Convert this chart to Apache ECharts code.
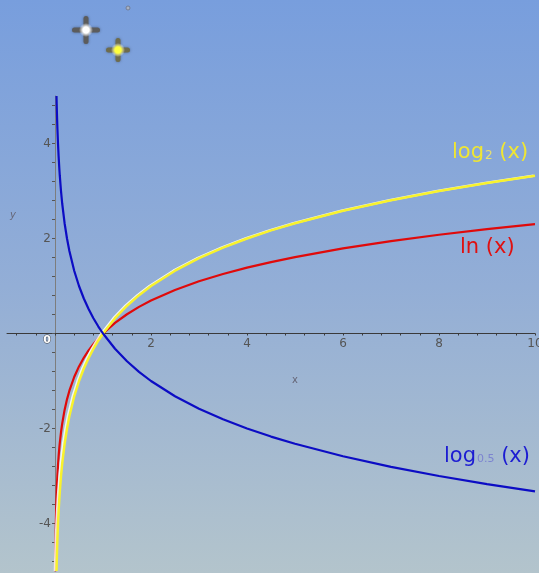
<!DOCTYPE html>
<html>
<head>
<meta charset="utf-8">
<script src="https://cdn.jsdelivr.net/npm/echarts@6/dist/echarts.min.js"></script>
<style>
  html, body { margin: 0; padding: 0; }
  #chart { width: 539px; height: 573px; }
</style>
</head>
<body>
<div id="chart"></div>
<script>
// Sample points of the three logarithm curves (x, y)
const xBase2 = [0.03125, 0.035, 0.04, 0.045, 0.05, 0.0625, 0.075, 0.09, 0.1, 0.125, 0.15, 0.2, 0.25, 0.3, 0.4, 0.5, 0.6, 0.7, 0.8, 0.9, 1, 1.25, 1.5, 1.75, 2, 2.5, 3, 3.5, 4, 4.5, 5, 6, 7, 8, 9, 10];
const yLog2 = [-5, -4.837, -4.644, -4.474, -4.322, -4, -3.737, -3.474, -3.322, -3, -2.737, -2.322, -2, -1.737, -1.322, -1, -0.737, -0.515, -0.322, -0.152, 0, 0.322, 0.585, 0.807, 1, 1.322, 1.585, 1.807, 2, 2.170, 2.322, 2.585, 2.807, 3, 3.170, 3.322];
const yLogHalf = [5, 4.837, 4.644, 4.474, 4.322, 4, 3.737, 3.474, 3.322, 3, 2.737, 2.322, 2, 1.737, 1.322, 1, 0.737, 0.515, 0.322, 0.152, 0, -0.322, -0.585, -0.807, -1, -1.322, -1.585, -1.807, -2, -2.170, -2.322, -2.585, -2.807, -3, -3.170, -3.322];
const xNat = [0.0067, 0.008, 0.01, 0.0125, 0.015, 0.02, 0.025, 0.03, 0.04, 0.05, 0.0625, 0.075, 0.09, 0.1, 0.125, 0.15, 0.2, 0.25, 0.3, 0.4, 0.5, 0.6, 0.7, 0.8, 0.9, 1, 1.25, 1.5, 1.75, 2, 2.5, 3, 3.5, 4, 4.5, 5, 6, 7, 8, 9, 10];
const yLn = [-5.006, -4.828, -4.605, -4.382, -4.200, -3.912, -3.689, -3.507, -3.219, -2.996, -2.773, -2.590, -2.408, -2.303, -2.079, -1.897, -1.609, -1.386, -1.204, -0.916, -0.693, -0.511, -0.357, -0.223, -0.105, 0, 0.223, 0.405, 0.560, 0.693, 0.916, 1.099, 1.253, 1.386, 1.504, 1.609, 1.792, 1.946, 2.079, 2.197, 2.303];

// Axis tick marks and labels
const xTickValues = [-0.8, -0.4, 0, 0.4, 0.8, 1.2, 1.6, 2, 2.4, 2.8, 3.2, 3.6, 4, 4.4, 4.8, 5.2, 5.6, 6, 6.4, 6.8, 7.2, 7.6, 8, 8.4, 8.8, 9.2, 9.6, 10];
const xLabelValues = [2, 4, 6, 8, 10];
const yTickValues = [-4.8, -4.4, -4, -3.6, -3.2, -2.8, -2.4, -2, -1.6, -1.2, -0.8, -0.4, 0, 0.4, 0.8, 1.2, 1.6, 2, 2.4, 2.8, 3.2, 3.6, 4, 4.4, 4.8];
const yLabelValues = [-4, -2, 2, 4];

// Curve captions
const captionLog2 = ['log', '2', ' (x)'];
const captionLn = 'ln (x)';
const captionLogHalf = ['log', '0.5', ' (x)'];

const pairs = (xs, ys) => xs.map((x, i) => [x, ys[i]]);

// Plot frame: x from -1 to 10, y from -5 to 5, equal scale
const GRID = { left: 7, right: 4, top: 96, bottom: 2 };
const W = 539, H = 573;
const plotW = W - GRID.left - GRID.right;
const plotH = H - GRID.top - GRID.bottom;
const yAxisShift = plotW * (0 - (-1)) / 11;   // distance of x = 0 from the left edge
const xAxisShift = plotH * (0 - (-5)) / 10;   // distance of y = 0 from the bottom edge

const chart = echarts.init(document.getElementById('chart'));

function star(cx, cy, arm, armColor, glow) {
  return {
    type: 'group', x: cx, y: cy, silent: true,
    children: [
      { type: 'rect', shape: { x: -arm, y: -2.5, width: arm * 2, height: 5, r: 2.5 },
        style: { fill: armColor, shadowBlur: 3, shadowColor: 'rgba(0,0,0,0.35)' } },
      { type: 'rect', shape: { x: -2.5, y: -arm, width: 5, height: arm * 2, r: 2.5 },
        style: { fill: armColor, shadowBlur: 3, shadowColor: 'rgba(0,0,0,0.35)' } },
      { type: 'circle', shape: { cx: 0, cy: 0, r: 7 },
        style: { fill: new echarts.graphic.RadialGradient(0.5, 0.5, 0.5, [
          { offset: 0, color: glow },
          { offset: 0.45, color: glow },
          { offset: 1, color: 'rgba(255,255,255,0)' }
        ]) } }
    ]
  };
}

chart.setOption({
  backgroundColor: new echarts.graphic.LinearGradient(0, 0, 0, 1, [
    { offset: 0, color: '#789edd' },
    { offset: 0.5, color: '#93aed6' },
    { offset: 1, color: '#b3c4cc' }
  ]),
  animation: false,
  grid: Object.assign({ containLabel: false, outerBoundsMode: 'none' }, GRID),
  xAxis: {
    type: 'value', min: -1, max: 10, position: 'bottom', offset: -xAxisShift,
    axisLine: { onZero: false, lineStyle: { color: '#3a3a3a', width: 1 } },
    axisTick: { show: true, customValues: xTickValues, length: 2, lineStyle: { color: '#3a3a3a' } },
    axisLabel: { customValues: xLabelValues, color: '#555', fontSize: 12, fontFamily: 'DejaVu Sans', margin: 4 },
    splitLine: { show: false }
  },
  yAxis: {
    type: 'value', min: -5, max: 5, position: 'left', offset: -yAxisShift,
    axisLine: { onZero: false, lineStyle: { color: '#7d7d7d', width: 1 } },
    axisTick: { show: true, customValues: yTickValues, length: 3, lineStyle: { color: '#555' } },
    axisLabel: { customValues: yLabelValues, color: '#555', fontSize: 12, fontFamily: 'DejaVu Sans', margin: 4 },
    splitLine: { show: false }
  },
  series: [
    {
      name: 'ln', type: 'line', data: pairs(xNat, yLn), showSymbol: false,
      smooth: false, clip: true,
      lineStyle: { color: '#e00a0a', width: 2.2 }
    },
    {
      name: 'log2', type: 'line', data: pairs(xBase2, yLog2), showSymbol: false,
      smooth: false, clip: true,
      lineStyle: { color: '#f8f22c', width: 2.5, shadowColor: 'rgba(255,255,255,0.85)', shadowOffsetX: -1.5, shadowBlur: 0 }
    },
    {
      name: 'log0.5', type: 'line', data: pairs(xBase2, yLogHalf), showSymbol: false,
      smooth: false, clip: true,
      lineStyle: { color: '#0c0cc4', width: 2.2 }
    }
  ],
  graphic: [
    star(86, 30, 14, '#5c5c5c', '#ffffff'),
    star(118, 50, 12, '#6e6c4c', '#ffff3c'),
    { type: 'circle', shape: { cx: 128, cy: 8, r: 2 }, style: { fill: '#a8b2c4', stroke: '#6c7488', lineWidth: 0.8 } },
    { type: 'text', x: 47, y: 340, style: { text: '0', fill: '#ffffff', stroke: '#333', lineWidth: 0.8, font: 'bold 11px "DejaVu Sans"', align: 'center', verticalAlign: 'middle' } },
    { type: 'text', x: 295, y: 380, style: { text: 'x', fill: '#667', font: '10px "DejaVu Sans"', align: 'center', verticalAlign: 'middle' } },
    { type: 'text', x: 13, y: 215, style: { text: 'y', fill: '#667', font: 'italic 10px "DejaVu Sans"', align: 'center', verticalAlign: 'middle' } },
    {
      type: 'text', x: 452, y: 153,
      style: {
        text: '{a|' + captionLog2[0] + '}{s|' + captionLog2[1] + '}{a|' + captionLog2[2] + '}',
        verticalAlign: 'middle',
        rich: {
          a: { fill: '#f0e632', font: '21px "DejaVu Sans"', verticalAlign: 'bottom' },
          s: { fill: '#e8e070', font: '12px "DejaVu Sans"', verticalAlign: 'bottom', padding: [0, 0, 2, 1] }
        }
      }
    },
    { type: 'text', x: 460, y: 248, style: { text: captionLn, fill: '#e01010', font: '21px "DejaVu Sans"', verticalAlign: 'middle' } },
    {
      type: 'text', x: 444, y: 457,
      style: {
        text: '{a|' + captionLogHalf[0] + '}{s|' + captionLogHalf[1] + '}{a|' + captionLogHalf[2] + '}',
        verticalAlign: 'middle',
        rich: {
          a: { fill: '#1c1cd2', font: '21px "DejaVu Sans"', verticalAlign: 'bottom' },
          s: { fill: '#7c84d0', font: '11px "DejaVu Sans"', verticalAlign: 'bottom', padding: [0, 0, 3, 1] }
        }
      }
    }
  ]
});
</script>
</body>
</html>
